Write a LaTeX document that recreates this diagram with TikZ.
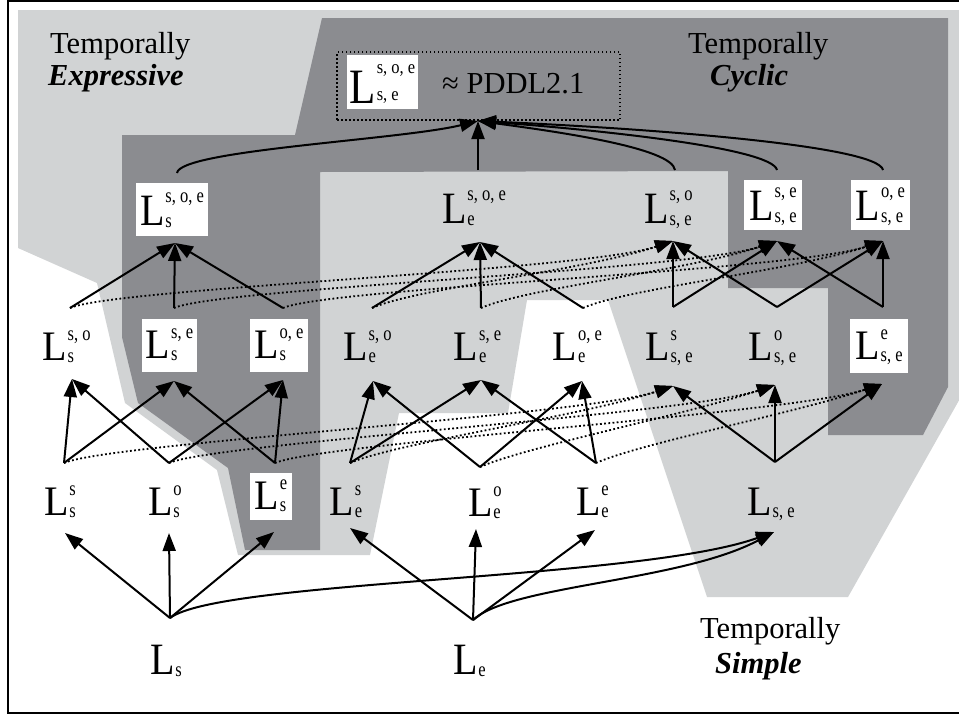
\documentclass[tikz,border=0pt]{standalone}
\usepackage{fontspec}
\usepackage{graphicx}
\setmainfont{Liberation Serif}
\usetikzlibrary{arrows.meta,calc}
\definecolor{lgray}{RGB}{209,211,212}
\definecolor{dgray}{RGB}{139,140,144}
\newcommand{\Lsym}[3][1.05]{{\fontsize{40}{40}\selectfont\scalebox{1}[#1]{L}}\kern0.8pt\raisebox{-2pt}{\fontsize{16.5}{22}\selectfont\begin{tabular}[b]{@{}l@{}}\scalebox{1}[1.25]{#3}\\\scalebox{1}[1.25]{#2}\end{tabular}}}
\newcommand{\LsymA}[2]{{\fontsize{40}{40}\selectfont\scalebox{1}[1.12]{L}}\kern0.8pt\raisebox{-2pt}{\fontsize{16.5}{25}\selectfont\begin{tabular}[b]{@{}l@{}}\scalebox{1}[1.25]{#2}\\\scalebox{1}[1.25]{#1}\end{tabular}}}
\newcommand{\Ltop}[2]{{\fontsize{43}{43}\selectfont\scalebox{1}[1.15]{L}}\kern0.8pt\raisebox{3pt}{\fontsize{16.5}{27}\selectfont\begin{tabular}[b]{@{}l@{}}\scalebox{1}[1.15]{#2}\\\scalebox{1}[1.15]{#1}\end{tabular}}}
\tikzset{
  lab/.style={inner sep=0pt},
  boxlab/.style={fill=white, inner sep=0pt},
  arr/.style={line width=2pt, -{Triangle[length=18pt,width=13pt]}},
  darr/.style={line width=1.8pt, dash pattern=on 1.8pt off 2.4pt, -{Triangle[length=18pt,width=13pt]}},
  ttl/.style={font=\fontsize{30.5}{32}\selectfont, inner sep=0pt, anchor=base west},
}
\begin{document}
\begin{tikzpicture}[x=1pt,y=-1pt]
\clip (0,0) rectangle (959,718);
\fill[white] (0,0) rectangle (959,718);
% regions
\fill[lgray] (18,10) -- (962,10) -- (962,395) -- (848,597) -- (707,597) -- (608,300) -- (527,300) -- (508,413) -- (399,413) -- (370,555) -- (238,555) -- (217,470) -- (125,403) -- (97,283) -- (18,248) -- cycle;
\fill[dgray] (322,18) -- (948,18) -- (948,387) -- (923,435) -- (828,435) -- (828,288) -- (728,288) -- (728,171) -- (320,172) -- (320,550) -- (245,550) -- (228,468) -- (138,403) -- (122,337) -- (122,135) -- (295,135) -- cycle;
% frame
\draw[line width=2pt] (8,1) rectangle (970,713);
% titles
\node[ttl] (te1) at (50,53) {Temporally};
\node[ttl] (te2) at (48,85) {\textbf{\textit{Expressive}}};
\node[ttl] (tc1) at (688,53) {Temporally};
\node[ttl] (tc2) at (710,85) {\textbf{\textit{Cyclic}}};
\node[ttl] (ts1) at (700,638) {Temporally};
\node[ttl] (ts2) at (715,673) {\textbf{\textit{Simple}}};
% top
\node[draw, line width=1.5pt, dash pattern=on 1.5pt off 2.5pt, minimum width=283pt, minimum height=68pt, inner sep=0pt] (pd) at (478.5,86) {};
\node[boxlab, minimum width=71pt, minimum height=53pt] (P) at (382.5,81.5) {\Ltop{s, e}{s, o, e}};
\node[ttl] (pddl) at (442,93) {≈ PDDL2.1};
% row 1
\node[boxlab, minimum width=72pt, minimum height=53pt] (A1) at (172,209.5) {\LsymA{s}{s, o, e}};
\node[lab] (A2) at (474,207.5) {\LsymA{e}{s, o, e}};
\node[lab] (A3) at (668.5,207.5) {\LsymA{s, e}{s, o}};
\node[boxlab, minimum width=58pt, minimum height=50pt] (A4) at (773,205) {\LsymA{s, e}{s, e}};
\node[boxlab, minimum width=59pt, minimum height=50pt] (A5) at (880.5,205) {\LsymA{s, e}{o, e}};
% row 2
\node[lab] (B1) at (66.5,346.6) {\Lsym{s}{s, o}};
\node[boxlab, minimum width=55pt, minimum height=53pt] (B2) at (169.5,345.5) {\Lsym{s}{s, e}};
\node[boxlab, minimum width=58pt, minimum height=53pt] (B3) at (279,345.5) {\Lsym{s}{o, e}};
\node[lab] (B4) at (367.5,346.6) {\Lsym{e}{s, o}};
\node[lab] (B5) at (477.5,346.6) {\Lsym{e}{s, e}};
\node[lab] (B6) at (577.5,346.6) {\Lsym{e}{o, e}};
\node[lab] (B7) at (669,346.6) {\Lsym{s, e}{s}};
\node[lab] (B8) at (772.5,346.6) {\Lsym{s, e}{o}};
\node[boxlab, minimum width=58pt, minimum height=54pt] (B9) at (879,346) {\Lsym{s, e}{e}};
% row 3
\node[lab] (C1) at (60,502) {\Lsym{s}{s}};
\node[lab] (C2) at (165,502) {\Lsym{s}{o}};
\node[boxlab, minimum width=42pt, minimum height=47pt] (C3) at (271,496.5) {\Lsym{s}{e}};
\node[lab] (C4) at (346,502) {\Lsym{e}{s}};
\node[lab] (C5) at (485,503) {\Lsym{e}{o}};
\node[lab] (C6) at (592.5,502.5) {\Lsym{e}{e}};
\node[lab] (C7) at (771,502) {\Lsym{s, e}{}};
% row 4
\node[lab] (D1) at (166,661) {\Lsym[1.12]{s}{}};
\node[lab] (D2) at (469.5,661) {\Lsym[1.12]{e}{}};
% attach points
\coordinate (T) at (478,121);
\coordinate (A1t) at (177,173); \coordinate (A1b) at (175,243);
\coordinate (A2t) at (478,170); \coordinate (A2b) at (480,242);
\coordinate (A3t) at (675,170); \coordinate (A3b) at (673,241);
\coordinate (A4t) at (777,170); \coordinate (A4b) at (777,241);
\coordinate (A5t) at (883,170); \coordinate (A5b) at (883,241);
\coordinate (B1t) at (70,308);  \coordinate (B1b) at (72,379);
\coordinate (B2t) at (174,308); \coordinate (B2b) at (174,381);
\coordinate (B3t) at (283,308); \coordinate (B3b) at (283,380);
\coordinate (B4t) at (372,308); \coordinate (B4b) at (373,381);
\coordinate (B5t) at (481,308); \coordinate (B5b) at (481,380);
\coordinate (B6t) at (583,308); \coordinate (B6b) at (582,381);
\coordinate (B7t) at (673,307); \coordinate (B7b) at (673,386);
\coordinate (B8t) at (777,307); \coordinate (B8b) at (775,385);
\coordinate (B9t) at (883,307); \coordinate (B9b) at (882,384);
\coordinate (C1t) at (64,463);  \coordinate (C1b) at (65,533);
\coordinate (C2t) at (169,463); \coordinate (C2b) at (169,533);
\coordinate (C3t) at (275,463); \coordinate (C3b) at (274,532);
\coordinate (C4t) at (350,463); \coordinate (C4b) at (350,528);
\coordinate (C5t) at (480,467); \coordinate (C5b) at (476,529);
\coordinate (C6t) at (596,463); \coordinate (C6b) at (595,530);
\coordinate (C7t) at (775,462); \coordinate (C7b) at (774,532);
\coordinate (D1t) at (170,618);
\coordinate (D2t) at (473,620);
% row1 -> top
\draw[arr] (A2t) -- (T);
\draw[arr] (A1t) .. controls (180,150) and (400,140) .. (T);
\draw[arr] (A3t) .. controls (672,148) and (560,132) .. (T);
\draw[arr] (A4t) .. controls (772,148) and (600,130) .. (T);
\draw[arr] (A5t) .. controls (878,145) and (640,128) .. (T);
% dotted row2 -> row1
\foreach \s/\t in {B1/A3,B2/A4,B3/A5,B4/A3,B5/A4,B6/A5}{
  \draw[darr] (\s t) .. controls ($(\s t)+(45,-20)$) and ($(\t b)+(-90,30)$) .. (\t b);
}
% dotted row3 -> row2
\foreach \s/\t in {C1/B7,C2/B8,C3/B9,C4/B7,C5/B8,C6/B9}{
  \draw[darr] (\s t) .. controls ($(\s t)+(45,-20)$) and ($(\t b)+(-90,30)$) .. (\t b);
}
% solid row2 -> row1
\foreach \s/\t in {B1/A1,B2/A1,B3/A1,B4/A2,B5/A2,B6/A2,B7/A3,B7/A4,B8/A3,B8/A5,B9/A4,B9/A5}{
  \draw[arr] (\s t) -- (\t b);
}
% solid row3 -> row2
\foreach \s/\t in {C1/B1,C1/B2,C2/B1,C2/B3,C3/B2,C3/B3,C4/B4,C4/B5,C5/B4,C5/B6,C6/B5,C6/B6,C7/B7,C7/B8,C7/B9}{
  \draw[arr] (\s t) -- (\t b);
}
% row4 -> row3
\foreach \t in {C1,C2,C3}{ \draw[arr] (D1t) -- (\t b); }
\foreach \t in {C4,C5,C6}{ \draw[arr] (D2t) -- (\t b); }
\draw[arr] (D1t) .. controls (220,580) and (640,580) .. (C7b);
\draw[arr] (D2t) .. controls (510,585) and (680,582) .. (C7b);
\end{tikzpicture}
\end{document}
